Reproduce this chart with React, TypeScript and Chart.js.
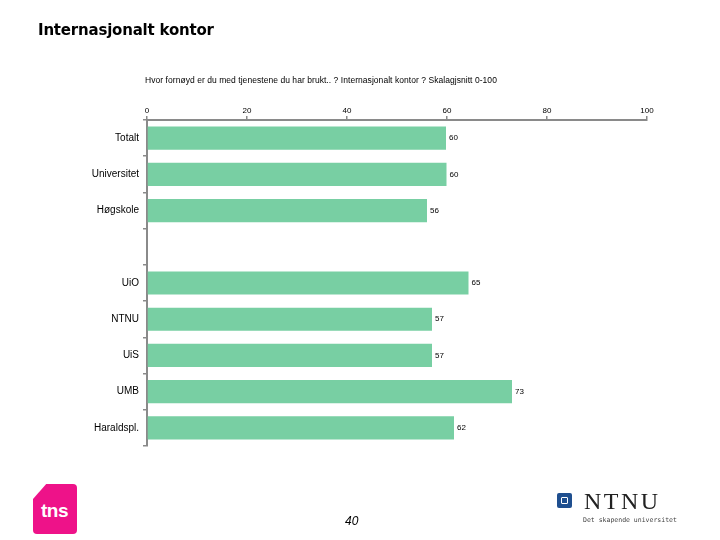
import React, { useEffect, useRef } from "react";
import { Chart, registerables } from "chart.js";

Chart.register(...registerables);

const categories = ["Totalt", "Universitet", "Høgskole", "", "UiO", "NTNU", "UiS", "UMB", "Haraldspl."];
const values: (number | null)[] = [59.8, 59.9, 56, null, 64.3, 57, 57, 73, 61.4];
const valueLabels = ["60", "60", "56", "", "65", "57", "57", "73", "62"];
const xTicks = [0, 20, 40, 60, 80, 100];

const titleText = "Internasjonalt kontor";
const subtitleText =
  "Hvor fornøyd er du med tjenestene du har brukt.. ? Internasjonalt kontor ? Skalagjsnitt 0-100";
const pageNumber = "40";

const BAR = "#78CFA3";
const AXIS = "#8a8a8a";

const valueLabelPlugin = {
  id: "valueLabels",
  afterDatasetsDraw(chart: any) {
    const meta = chart.getDatasetMeta(0);
    const ctx = chart.ctx;
    ctx.save();
    ctx.font = "8px 'Liberation Sans', Arial, sans-serif";
    ctx.fillStyle = "#000";
    ctx.textAlign = "left";
    ctx.textBaseline = "middle";
    meta.data.forEach((el: any, i: number) => {
      if (values[i] == null) return;
      ctx.fillText(valueLabels[i], el.x + 3, el.y);
    });
    ctx.restore();
  },
};

export default function App() {
  const ref = useRef<HTMLCanvasElement>(null);
  useEffect(() => {
    if (!ref.current) return;
    const chart = new Chart(ref.current, {
      type: "bar",
      data: {
        labels: categories,
        datasets: [
          {
            data: values,
            backgroundColor: BAR,
            borderWidth: 0,
            barPercentage: 0.64,
            categoryPercentage: 1,
          },
        ],
      },
      options: {
        indexAxis: "y",
        animation: false,
        responsive: false,
        maintainAspectRatio: false,
        layout: { padding: { left: 0, right: 73, top: 89, bottom: 94 } },
        plugins: { legend: { display: false }, tooltip: { enabled: false }, title: { display: false } },
        scales: {
          x: {
            position: "top",
            min: 0,
            max: 100,
            afterBuildTicks(scale: any) {
              scale.ticks = xTicks.map((v) => ({ value: v }));
            },
            afterFit(scale: any) {
              scale.height = 31;
            },
            ticks: {
              color: "#000",
              font: { size: 8, family: "'Liberation Sans', Arial, sans-serif" },
              padding: 0,
            },
            grid: { drawOnChartArea: false, drawTicks: true, tickLength: 4, color: AXIS, lineWidth: 1.5 },
            border: { display: true, color: AXIS, width: 2 },
          },
          y: {
            afterFit(scale: any) {
              scale.width = 147;
            },
            ticks: {
              color: "#000",
              font: { size: 10, family: "'Liberation Sans', Arial, sans-serif" },
              padding: 4,
            },
            grid: { drawOnChartArea: false, drawTicks: true, tickLength: 4, color: AXIS, lineWidth: 1.5, offset: true },
            border: { display: true, color: AXIS, width: 2 },
          },
        },
      },
      plugins: [valueLabelPlugin],
    });
    return () => chart.destroy();
  }, []);

  return (
    <div style={{ position: "fixed", left: 0, top: 0, width: 720, height: 540, background: "#fff", overflow: "hidden" }}>
      <canvas ref={ref} width={720} height={540} style={{ position: "absolute", left: 0, top: 0, width: 720, height: 540 }} />
      <div
        style={{
          position: "absolute",
          left: 38,
          top: 21,
          fontFamily: "'DejaVu Sans', Verdana, sans-serif",
          fontWeight: "bold",
          fontSize: 15,
          letterSpacing: -0.2,
          color: "#000",
          whiteSpace: "nowrap",
        }}
      >
        {titleText}
      </div>
      <div
        style={{
          position: "absolute",
          left: 145,
          top: 75,
          fontFamily: "'Liberation Sans', Arial, sans-serif",
          fontSize: 8.5,
          letterSpacing: 0.05,
          color: "#000",
          whiteSpace: "nowrap",
        }}
      >
        {subtitleText}
      </div>
      <div
        style={{
          position: "absolute",
          left: 345,
          top: 514,
          fontFamily: "'Liberation Sans', Arial, sans-serif",
          fontStyle: "italic",
          fontSize: 12,
          color: "#000",
        }}
      >
        {pageNumber}
      </div>
      {/* tns logo */}
      <div
        style={{
          position: "absolute",
          left: 33,
          top: 484,
          width: 44,
          height: 50,
          background: "#EE1289",
          borderRadius: 4,
          clipPath: "polygon(30% 0, 100% 0, 100% 100%, 0 100%, 0 30%)",
        }}
      >
        <div
          style={{
            position: "absolute",
            left: 8,
            top: 16,
            color: "#fff",
            fontFamily: "'Liberation Sans', Arial, sans-serif",
            fontWeight: "bold",
            fontSize: 19,
            letterSpacing: -0.5,
          }}
        >
          tns
        </div>
      </div>
      {/* NTNU logo */}
      <div
        style={{
          position: "absolute",
          left: 557,
          top: 493,
          width: 15,
          height: 15,
          background: "#1f4f8f",
          borderRadius: 2,
        }}
      >
        <div style={{ position: "absolute", left: 4, top: 4, width: 5, height: 5, border: "1px solid #fff", borderRadius: 1 }} />
      </div>
      <div
        style={{
          position: "absolute",
          left: 584,
          top: 487,
          fontFamily: "'Liberation Serif', 'Times New Roman', serif",
          fontSize: 24,
          color: "#222",
          letterSpacing: 2.5,
          lineHeight: "28px",
        }}
      >
        NTNU
      </div>
      <div
        style={{
          position: "absolute",
          left: 583,
          top: 516,
          fontFamily: "'DejaVu Sans Mono', monospace",
          fontSize: 6.5,
          color: "#444",
          whiteSpace: "nowrap",
        }}
      >
        Det skapende universitet
      </div>
    </div>
  );
}
